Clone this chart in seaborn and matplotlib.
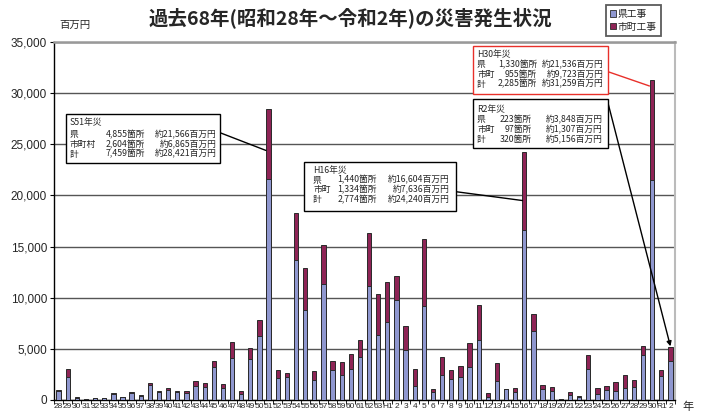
import matplotlib
matplotlib.use("Agg")
import matplotlib.pyplot as plt
from matplotlib.patches import Rectangle, Patch
import seaborn as sns
import pandas as pd

# ---- data ----
keys = ([f"S{y}" for y in range(28, 64)] + [f"H{y}" for y in range(1, 31)] + ["R1", "R2"])
tick_labels = ([str(y) for y in range(28, 64)] + ["H1"] + [str(y) for y in range(2, 31)] + ["R1", "2"])
total = [1000, 3040, 260, 130, 230, 230, 700, 330, 830, 500,
         1650, 870, 1150, 850, 900, 1820, 1630, 3840, 1520, 5690,
         920, 5040, 7800, 28421, 2950, 2620, 18260, 12940, 2830, 15180,
         3800, 3740, 4490, 5820, 16310, 10400,
         11570, 12150, 7200, 2990, 15760, 1070, 4160, 2930, 3330, 5590,
         9260, 730, 3620, 1120, 1220, 24240, 8390, 1490, 1280, 100,
         800, 380, 4420, 1200, 1400, 1800, 2420, 1980, 5260, 31259,
         2960, 5156]
ken = [850, 2200, 200, 100, 180, 180, 600, 250, 700, 420,
       1500, 750, 1000, 760, 680, 1370, 1300, 3250, 1210, 4140,
       600, 3980, 6300, 21566, 2170, 2200, 13720, 8840, 1950, 11370,
       2920, 2470, 3020, 4160, 11150, 6340,
       7640, 9820, 4880, 1370, 9170, 750, 2400, 2020, 2240, 3250,
       5900, 270, 1880, 1050, 830, 16604, 6760, 1060, 890, 80,
       500, 300, 3050, 560, 950, 880, 1220, 1290, 4380, 21536,
       2390, 3848]
series_names = ["県工事", "市町工事"]
title = "過去68年(昭和28年～令和2年)の災害発生状況"

df = pd.DataFrame({"key": keys, "total": total, "ken": ken})

sns.set_theme(style="white")
plt.rcParams["font.family"] = ["Noto Sans CJK JP", "DejaVu Sans"]

W, H = 704, 412
fig = plt.figure(figsize=(W / 100, H / 100), dpi=100)
ax = fig.add_axes([54 / W, 1 - 400 / H, (675 - 54) / W, (400 - 42) / H])

blue = "#8F97CF"
red = "#8E2456"
sns.barplot(data=df, x="key", y="total", order=keys, color=red, saturation=1,
            width=0.47, edgecolor="#2a2a2a", linewidth=0.7, ax=ax, zorder=3)
sns.barplot(data=df, x="key", y="ken", order=keys, color=blue, saturation=1,
            width=0.47, edgecolor="#2a2a2a", linewidth=0.7, ax=ax, zorder=4)

ax.set_xlim(-0.3, 67.35)
ax.set_ylim(0, 35000)
ax.set_yticks(range(0, 35001, 5000))
ax.set_yticklabels([f"{v:,}" for v in range(0, 35001, 5000)], fontsize=8.5,
                   family=["Liberation Sans", "DejaVu Sans"])
ax.set_xticks(range(len(keys)))
ax.set_xticklabels(tick_labels, fontsize=6.0, family=["Liberation Sans", "DejaVu Sans"])
ax.tick_params(axis="x", length=0, pad=2)
ax.set_xticks([i + 0.5 for i in range(-1, len(keys))], minor=True)
ax.tick_params(axis="x", which="minor", length=3, width=0.6, color="black", direction="out", bottom=True)
ax.tick_params(axis="y", length=3, width=0.8, color="black", left=True, pad=2)
ax.set_xlabel("")
ax.set_ylabel("")
ax.yaxis.grid(True, color="#555555", lw=1)
ax.set_axisbelow(True)
for s in ["left", "bottom"]:
    ax.spines[s].set_color("black")
    ax.spines[s].set_linewidth(1)
ax.spines["top"].set_color("#999999")
ax.spines["top"].set_linewidth(1.8)
ax.spines["right"].set_color("#bbbbbb")
ax.spines["right"].set_linewidth(1.5)

# title and unit
fig.text(350 / W, 1 - 18 / H, title, ha="center", va="center", fontsize=14, fontweight="semibold")
fig.text(75 / W, 1 - 25 / H, "百万円", ha="center", va="center", fontsize=7.5)
fig.text(688 / W, 1 - 407 / H, "年", ha="center", va="center", fontsize=8)

# legend
handles = [Patch(facecolor=blue, edgecolor="#2a2a2a", lw=0.6, label=series_names[0]),
           Patch(facecolor=red, edgecolor="#2a2a2a", lw=0.6, label=series_names[1])]
leg = fig.legend(handles=handles, loc="upper left", bbox_to_anchor=(606 / W, 1 - 5 / H),
                 fontsize=7, frameon=True, fancybox=False, handlelength=0.6, handleheight=0.6,
                 handletextpad=0.2, labelspacing=0.3, borderpad=0.4, borderaxespad=0)
leg.get_frame().set_edgecolor("#333333")
leg.get_frame().set_linewidth(1.3)


def F(x, y):
    return (x / W, 1 - y / H)


FS = 6.3


def info_box(x0, y0, x1, y1, edge, head, rows, ycoords, xlab, xcnt, xamt):
    fig.patches.append(Rectangle(F(x0, y1), (x1 - x0) / W, (y1 - y0) / H, transform=fig.transFigure,
                                 facecolor="white", edgecolor=edge, lw=1, zorder=10))
    fig.text(*F(xlab, ycoords[0]), head, ha="left", va="center", fontsize=FS, zorder=11)
    for (lab, cnt, amt), yy in zip(rows, ycoords[1:]):
        fig.text(*F(xlab, yy), lab, ha="left", va="center", fontsize=FS, zorder=11)
        fig.text(*F(xcnt, yy), cnt, ha="right", va="center", fontsize=FS, zorder=11)
        fig.text(*F(xamt, yy), amt, ha="right", va="center", fontsize=FS, zorder=11)


def connect(idx, val, px, py, color, arrow=False):
    ax.annotate("", xy=(idx, val), xycoords="data", xytext=F(px, py), textcoords="figure fraction",
                arrowprops=dict(arrowstyle="-|>" if arrow else "-", color=color, lw=1,
                                shrinkA=0, shrinkB=0, mutation_scale=7), zorder=9)


connect(23 - 0.3, 24400, 220, 132.7, "black")
info_box(66, 114, 220, 163, "black", "S51年災",
         [("県", "4,855箇所", "約21,566百万円"),
          ("市町村", "2,604箇所", "約6,865百万円"),
          ("計", "7,459箇所", "約28,421百万円")],
         [123, 134.3, 144.7, 154], 70, 145, 217)

connect(51 - 0.2, 19500, 456, 191.7, "black")
info_box(304, 162, 456, 211, "black", "H16年災",
         [("県", "1,440箇所", "約16,604百万円"),
          ("市町", "1,334箇所", "約7,636百万円"),
          ("計", "2,774箇所", "約24,240百万円")],
         [170, 180, 189.7, 199.3], 313, 377, 450)

connect(65 - 0.3, 30700, 608, 71.7, "#e8302a")
info_box(473, 46, 608, 94, "#e8302a", "H30年災",
         [("県", "1,330箇所", "約21,536百万円"),
          ("市町", "955箇所", "約9,723百万円"),
          ("計", "2,285箇所", "約31,259百万円")],
         [55, 65, 74.5, 84], 477, 537, 604)

connect(67, 5250, 608, 103, "black", arrow=True)
info_box(473, 99, 608, 148, "black", "R2年災",
         [("県", "223箇所", "約3,848百万円"),
          ("市町", "97箇所", "約1,307百万円"),
          ("計", "320箇所", "約5,156百万円")],
         [109.3, 119.3, 129.3, 139.3], 477, 532, 603)

fig.savefig("out.png", dpi=100)
